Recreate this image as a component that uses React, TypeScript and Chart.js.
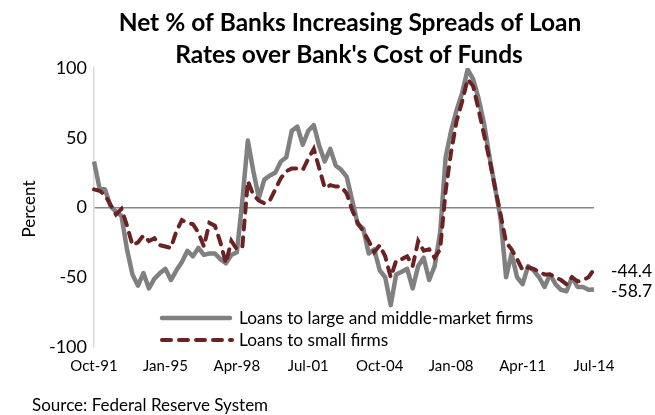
import React, { useEffect, useRef } from "react";
import { Chart, registerables } from "chart.js";

Chart.register(...registerables);

// Quarterly survey results, Oct-91 .. Jul-14 (92 quarters)
const START_YEAR = 1991;
const START_QUARTER = 3; // 0=Jan,1=Apr,2=Jul,3=Oct
const MONTHS = ["Jan", "Apr", "Jul", "Oct"];

const LARGE_FIRMS = [
  33, 14, 13, 1, -3, -6, -30, -48, -56, -47,
  -58, -51, -47, -44, -52, -45, -39, -31, -35, -29,
  -34, -33, -33, -37, -40, -34, -32, 5, 48, 26,
  7, 20, 23, 25, 33, 36, 55, 58, 45, 55,
  59, 44, 33, 42, 30, 27, 22, 5, -12, -15,
  -33, -30, -45, -50, -70, -48, -46, -44, -58, -42,
  -36, -52, -42, -18, 36, 55, 70, 82, 99, 92,
  78, 60, 36, 14, -8, -50, -33, -50, -55, -42,
  -45, -50, -57, -48, -55, -59, -60, -50, -57, -57,
  -59, -58.7,
];

const SMALL_FIRMS = [
  13, 12, 9, 2, -5, -1, -13, -27, -25, -20,
  -24, -22, -27, -28, -29, -17, -9, -11, -12, -18,
  -28, -11, -13, -25, -40, -24, -30, -28, 19, 9,
  5, 3, 5, 13, 21, 26, 28, 28, 27, 35,
  42, 28, 14, 16, 15, 15, 10, -2, -11, -17,
  -24, -32, -27, -35, -50, -38, -37, -35, -42, -24,
  -31, -30, -36, -30, 12, 40, 62, 76, 92, 87,
  70, 52, 34, 14, -5, -25, -30, -37, -45, -43,
  -44, -46, -48, -48, -50, -52, -55, -50, -53, -52,
  -50, -44.4,
];

const TICK_LABELS = ["Oct-91", "Jan-95", "Apr-98", "Jul-01", "Oct-04", "Jan-08", "Apr-11", "Jul-14"];
const Y_TICKS = [-100, -50, 0, 50, 100];

const TITLE_LINES = ["Net % of Banks Increasing Spreads of Loan", "Rates over Bank's Cost of Funds"];
const SERIES_NAMES = ["Loans to large and middle-market firms", "Loans to small firms"];
const SOURCE = "Source: Federal Reserve System";
const Y_TITLE = "Percent";

const QUARTERS: string[] = LARGE_FIRMS.map((_, i) => {
  const q = START_QUARTER + i;
  const yr = START_YEAR + Math.floor(q / 4);
  return MONTHS[q % 4] + "-" + String(yr % 100).padStart(2, "0");
});

const GRAY = "#808080";
const MAROON = "#6B2222";
const FONT = "Lato, 'Open Sans', sans-serif";

const overlay = {
  id: "overlay",
  afterDraw(chart: any) {
    const ctx = chart.ctx as CanvasRenderingContext2D;
    const ys = chart.scales.y;
    ctx.save();
    ctx.fillStyle = "#000";
    // title
    ctx.textAlign = "center";
    ctx.textBaseline = "alphabetic";
    ctx.font = `bold 24.5px ${FONT}`;
    ctx.fillText(TITLE_LINES[0], 350, 31);
    ctx.fillText(TITLE_LINES[1], 349, 63);
    // y title
    ctx.save();
    ctx.translate(30, 209);
    ctx.rotate(-Math.PI / 2);
    ctx.textBaseline = "middle";
    ctx.font = `17px ${FONT}`;
    ctx.fillText(Y_TITLE, 0, 0);
    ctx.restore();
    // legend
    ctx.lineWidth = 4.5;
    ctx.lineCap = "round";
    ctx.strokeStyle = GRAY;
    ctx.beginPath();
    ctx.moveTo(162, 318);
    ctx.lineTo(230, 318);
    ctx.stroke();
    ctx.strokeStyle = MAROON;
    ctx.lineWidth = 4;
    ctx.setLineDash([9, 8]);
    ctx.beginPath();
    ctx.moveTo(162, 340);
    ctx.lineTo(232, 340);
    ctx.stroke();
    ctx.setLineDash([]);
    ctx.textAlign = "left";
    ctx.textBaseline = "middle";
    ctx.font = `17.3px ${FONT}`;
    ctx.fillText(SERIES_NAMES[0], 239, 318);
    ctx.fillText(SERIES_NAMES[1], 239, 340);
    // end labels
    const lastS = SMALL_FIRMS[SMALL_FIRMS.length - 1];
    const lastL = LARGE_FIRMS[LARGE_FIRMS.length - 1];
    ctx.font = `17.5px ${FONT}`;
    ctx.fillText(lastS.toFixed(1), 611, ys.getPixelForValue(lastS) + 2);
    ctx.fillText(lastL.toFixed(1), 611, ys.getPixelForValue(lastL) + 2);
    // source
    ctx.font = `17px ${FONT}`;
    ctx.fillText(SOURCE, 32, 406);
    ctx.restore();
  },
};

export default function App() {
  const ref = useRef<HTMLCanvasElement | null>(null);
  useEffect(() => {
    if (!ref.current) return;
    const chart = new Chart(ref.current, {
      type: "line",
      data: {
        labels: QUARTERS,
        datasets: [
          {
            label: SERIES_NAMES[0],
            data: LARGE_FIRMS,
            borderColor: GRAY,
            borderWidth: 4.5,
            pointRadius: 0,
            tension: 0,
            borderJoinStyle: "round",
            order: 2,
          },
          {
            label: SERIES_NAMES[1],
            data: SMALL_FIRMS,
            borderColor: MAROON,
            borderWidth: 4,
            borderDash: [9, 8],
            borderCapStyle: "round",
            pointRadius: 0,
            tension: 0,
            order: 1,
          },
        ],
      },
      options: {
        responsive: false,
        animation: false,
        devicePixelRatio: 1,
        layout: { padding: { top: 68, right: 61, bottom: 38, left: 0 } },
        plugins: { legend: { display: false }, title: { display: false }, tooltip: { enabled: false } },
        scales: {
          x: {
            type: "category",
            offset: false,
            grid: { display: false, drawTicks: false },
            border: { display: false },
            afterFit: (s: any) => {
              s.height = 30;
            },
            ticks: {
              autoSkip: false,
              maxRotation: 0,
              minRotation: 0,
              padding: 10,
              color: "#000",
              font: { family: FONT, size: 15 },
              callback: (_v: any, i: number) => (TICK_LABELS.includes(QUARTERS[i]) ? QUARTERS[i] : null),
            },
          },
          y: {
            min: -100,
            max: 100,
            afterFit: (s: any) => {
              s.width = 94;
            },
            afterBuildTicks: (s: any) => {
              s.ticks = Y_TICKS.map((v) => ({ value: v }));
            },
            grid: {
              drawTicks: false,
              color: (c: any) => (c.tick && c.tick.value === 0 ? "#868686" : "rgba(0,0,0,0)"),
              lineWidth: 1.5,
            },
            border: { display: true, color: "#d9d9d9", width: 1.5 },
            ticks: {
              padding: 7,
              color: "#000",
              font: { family: FONT, size: 18 },
            },
          },
        },
      },
      plugins: [overlay],
    });
    return () => chart.destroy();
  }, []);
  return (
    <div style={{ position: "fixed", left: 0, top: 0, width: 655, height: 415, background: "#fff" }}>
      <canvas ref={ref} width={655} height={415} />
    </div>
  );
}
